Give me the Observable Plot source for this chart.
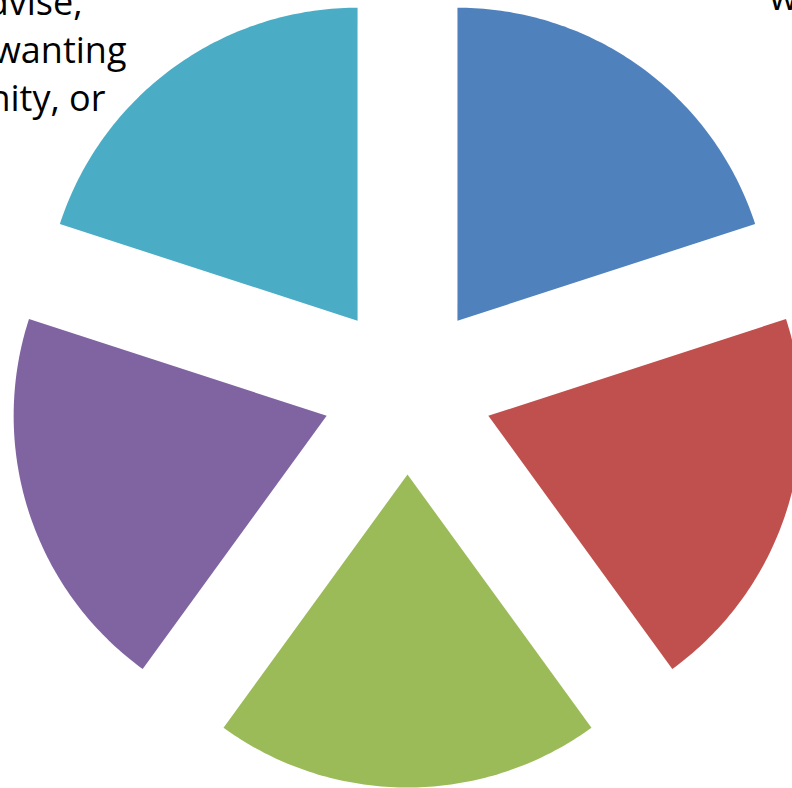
<!DOCTYPE html>
<html>
<head>
<meta charset="utf-8">
<script src="https://cdn.jsdelivr.net/npm/d3@7"></script>
<script src="https://cdn.jsdelivr.net/npm/@observablehq/plot@0.6"></script>
<style>
  html, body { margin: 0; padding: 0; background: #fff; overflow: hidden; }
  #chart { width: 792px; height: 788px; }
</style>
</head>
<body>
<div id="chart"></div>
<script>
// ---- data ----
const categories = ["Slice 1", "Slice 2", "Slice 3", "Slice 4", "Slice 5"];
const values = [20, 20, 20, 20, 20];
const colors = ["#4F81BD", "#C0504D", "#9BBB59", "#8064A2", "#4BACC6"];
const leftLabelLines = ["advise,", "wanting", "community, or"];
const rightLabelLines = ["which", "of"];

// ---- geometry (layout, not data) ----
const W = 792, H = 788;
const R = 313;            // radius in px
const CX = 407, CY = 389; // pie centre in px
const explode = 85 / R;   // explode offset in radius units

const table = categories.map((c, i) => ({category: c, value: values[i]}));
const arcs = d3.pie().sort(null).value(d => d.value)(table);

const pts = [];
arcs.forEach(a => {
  const mid = (a.startAngle + a.endAngle) / 2;
  const ox = explode * Math.sin(mid), oy = explode * Math.cos(mid);
  pts.push({category: a.data.category, x: ox, y: oy});
  const n = 90;
  for (let k = 0; k <= n; k++) {
    const t = a.startAngle + (a.endAngle - a.startAngle) * k / n;
    pts.push({category: a.data.category, x: ox + Math.sin(t), y: oy + Math.cos(t)});
  }
});

const font = "'Open Sans', sans-serif";
const fs = 36;

// label line placement (px): left lines end-anchored, right lines start-anchored
const leftEnds = [82, 126, 105], leftBaselines = [14, 62, 110];
const rightStarts = [769, 790], rightBaselines = [9, 58];

const textMarks = [
  ...leftLabelLines.map((line, i) => Plot.text([line], {
    text: d => d, frameAnchor: "top-left", dx: leftEnds[i], dy: leftBaselines[i],
    textAnchor: "end", lineAnchor: "bottom", fontSize: fs, fill: "#000", fontFamily: font
  })),
  ...rightLabelLines.map((line, i) => Plot.text([line], {
    text: d => d, frameAnchor: "top-left", dx: rightStarts[i], dy: rightBaselines[i],
    textAnchor: "start", lineAnchor: "bottom", fontSize: fs, fill: "#000", fontFamily: font
  }))
];

const chart = Plot.plot({
  width: W,
  height: H,
  margin: 0,
  style: {background: "#fff", fontFamily: font},
  x: {domain: [-CX / R, (W - CX) / R], axis: null},
  y: {domain: [-(H - CY) / R, CY / R], axis: null},
  color: {domain: categories, range: colors},
  marks: [
    Plot.line(pts, {x: "x", y: "y", z: "category", fill: "category", stroke: null, curve: "linear"}),
    ...textMarks
  ]
});
document.getElementById("chart").appendChild(chart);
</script>
</body>
</html>
